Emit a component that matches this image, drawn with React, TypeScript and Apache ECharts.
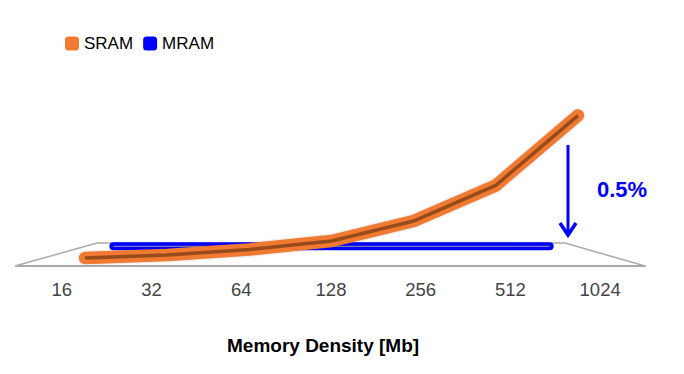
import React, { useEffect, useRef } from "react";
import * as echarts from "echarts";

const categories = ["16", "32", "64", "128", "256", "512", "1024"];
const sramValues = [1.5, 2.9, 5.6, 9.7, 19.4, 36.7, 70.6];
const mramValues = [0.35, 0.35, 0.35, 0.35, 0.35, 0.35, 0.35];
const seriesNames = ["SRAM", "MRAM"];
const reductionLabel = "0.5%";
const axisTitle = "Memory Density [Mb]";

const ORANGE = "#F07A30";
const BLUE = "#0000FF";
const FONT = "'Liberation Sans', Arial, Helvetica, sans-serif";

export default function App() {
  const ref = useRef<HTMLDivElement>(null);
  useEffect(() => {
    if (!ref.current) return;
    const chart = echarts.init(ref.current, undefined, { renderer: "svg" });
    const hiddenY = (gi: number) => ({ type: "value", gridIndex: gi, min: 0, max: 100, show: false });
    const hiddenX = (gi: number) => ({
      type: "category",
      gridIndex: gi,
      data: categories,
      boundaryGap: true,
      show: false,
    });
    chart.setOption({
      animation: false,
      backgroundColor: "#ffffff",
      textStyle: { fontFamily: FONT },
      title: {
        text: axisTitle,
        left: 222,
        top: 331,
        textStyle: { fontSize: 19, fontWeight: "bold", color: "#000", fontFamily: FONT },
      },
      legend: {
        left: 60,
        top: 30,
        icon: "roundRect",
        itemWidth: 14,
        itemHeight: 14,
        itemGap: 10,
        data: seriesNames,
        textStyle: { fontSize: 17, color: "#000", fontFamily: FONT },
      },
      grid: [
        { left: 17, right: 39, top: 55, bottom: 108 },
        { left: 44, right: 65, top: 55, bottom: 113 },
        { left: 77, right: 98, top: 55, bottom: 127 },
      ],
      xAxis: [
        {
          type: "category",
          gridIndex: 0,
          data: categories,
          boundaryGap: true,
          axisLine: { show: true, lineStyle: { color: "#aaaaaa", width: 2 } },
          axisTick: { show: false },
          axisLabel: { color: "#444444", fontSize: 18.5, margin: 14, fontFamily: FONT },
          splitLine: { show: false },
        },
        hiddenX(1),
        hiddenX(2),
      ],
      yAxis: [hiddenY(0), hiddenY(1), hiddenY(2)],
      graphic: [
        {
          type: "polygon",
          z: 0,
          shape: { points: [[15, 266], [97, 243], [565, 243], [645, 266]] },
          style: { fill: "#ffffff", stroke: "#aaaaaa", lineWidth: 1.5 },
        },
        {
          type: "polyline",
          z: 10,
          shape: { points: [[568, 145], [568, 235]] },
          style: { stroke: BLUE, lineWidth: 3, fill: "none" },
        },
        {
          type: "polyline",
          z: 10,
          shape: { points: [[560, 223], [568, 235], [576, 223]] },
          style: { stroke: BLUE, lineWidth: 3.5, fill: "none", lineJoin: "miter" },
        },
        {
          type: "text",
          z: 10,
          x: 597,
          y: 189,
          style: {
            text: reductionLabel,
            fill: BLUE,
            font: `bold 22px ${FONT}`,
            verticalAlign: "middle",
            align: "left",
          },
        },
      ],
      series: [
        {
          name: "MRAM",
          type: "line",
          xAxisIndex: 2,
          yAxisIndex: 2,
          data: mramValues,
          color: BLUE,
          symbol: "none",
          z: 3,
          lineStyle: { color: BLUE, width: 8, cap: "round", join: "round" },
        },
        {
          name: "MRAM core",
          type: "line",
          xAxisIndex: 2,
          yAxisIndex: 2,
          data: mramValues,
          symbol: "none",
          z: 4,
          lineStyle: { color: "#7a7ab0", width: 1.2 },
        },
        {
          name: "SRAM",
          type: "line",
          xAxisIndex: 1,
          yAxisIndex: 1,
          data: sramValues,
          color: ORANGE,
          symbol: "none",
          z: 5,
          lineStyle: {
            color: ORANGE,
            width: 12.5,
            cap: "round",
            join: "round",
            shadowBlur: 2,
            shadowColor: "rgba(0,0,0,0.25)",
          },
        },
        {
          name: "SRAM core",
          type: "line",
          xAxisIndex: 1,
          yAxisIndex: 1,
          data: sramValues,
          symbol: "none",
          z: 6,
          lineStyle: { color: "#7a3c12", width: 3.5, opacity: 0.75, join: "round" },
        },
      ],
    });
    return () => chart.dispose();
  }, []);
  return (
    <div
      ref={ref}
      style={{ position: "fixed", left: 0, top: 0, width: 684, height: 374 }}
    />
  );
}
